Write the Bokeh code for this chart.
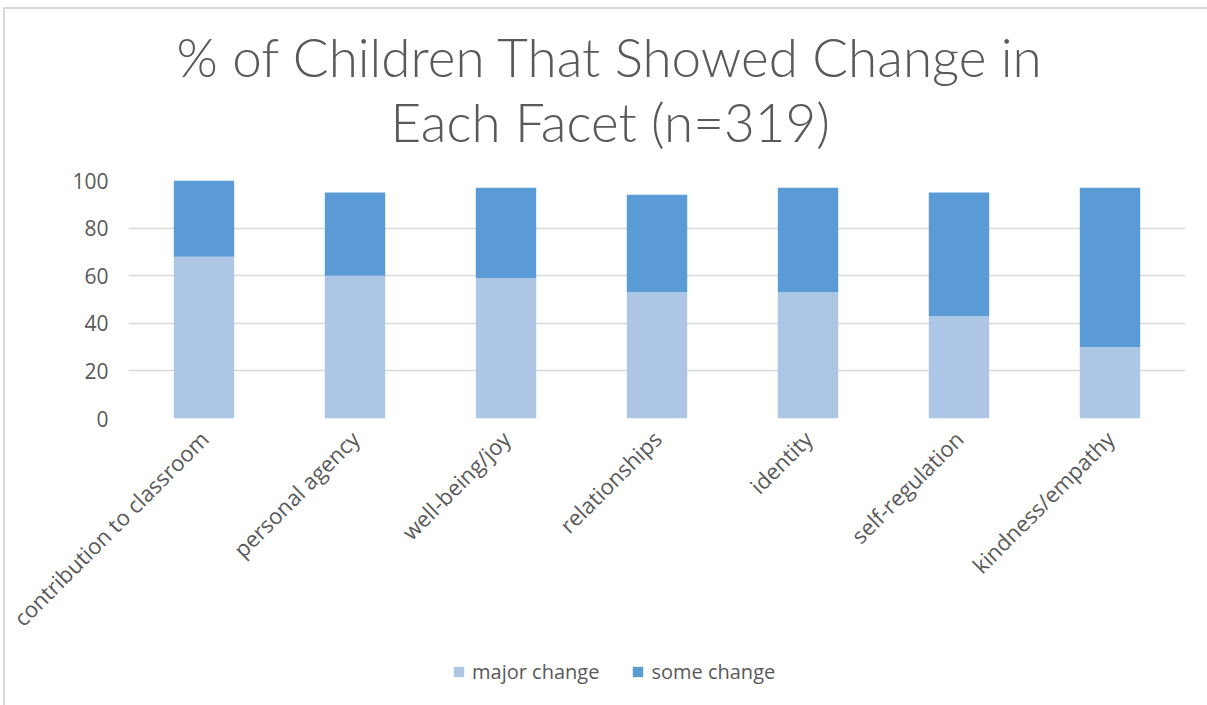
import math
from bokeh.plotting import figure
from bokeh.layouts import column
from bokeh.models import (FactorRange, Range1d, FixedTicker, Legend, LegendItem,
                          ColumnDataSource, Title)
from bokeh.embed import file_html
from bokeh.resources import INLINE

categories = ["contribution to classroom", "personal agency", "well-being/joy",
              "relationships", "identity", "self-regulation", "kindness/empathy"]
major_change = [68, 60, 59, 53, 53, 43, 30]
some_change = [32, 35, 38, 41, 44, 52, 67]
series = ["major change", "some change"]
colors = ["#ADC6E5", "#5B9BD5"]
y_ticks = [0, 20, 40, 60, 80, 100]
title_lines = ["% of Children That Showed Change in", "Each Facet (n=319)"]

TXT = "#595959"
OX, OY = 5, 9                 # content origin inside the bordered page
W = 1207 - OX
SPLIT = 652                   # page y where the legend strip starts
H1 = SPLIT - OY
H2 = 705 - SPLIT
FL, FR = 128 - OX, 1185 - OX
FT, FB = 180 - OY, 418 - OY

source = ColumnDataSource(dict(cat=categories, **{series[0]: major_change, series[1]: some_change}))

p = figure(width=W, height=H1, output_backend="svg", toolbar_location=None,
           x_range=FactorRange(*categories, range_padding=0, factor_padding=0),
           y_range=Range1d(0, 100),
           min_border_left=FL, min_border_right=W - FR,
           min_border_top=FT, min_border_bottom=H1 - FB,
           outline_line_color=None, background_fill_color="white",
           border_fill_color="white", margin=0)

renderers = p.vbar_stack(series, x="cat", width=0.4, color=colors, source=source,
                         line_color=None)

p.xgrid.grid_line_color = None
p.ygrid.grid_line_color = "#D9D9D9"
p.ygrid.grid_line_width = 1.5
p.yaxis.ticker = FixedTicker(ticks=y_ticks)

for ax in (p.xaxis[0], p.yaxis[0]):
    ax.axis_line_color = None
    ax.major_tick_line_color = None
    ax.minor_tick_line_color = None
    ax.major_tick_out = 0
    ax.major_tick_in = 0
    ax.major_label_text_color = TXT
    ax.major_label_text_font = "Open Sans"

p.yaxis.major_label_text_font_size = "21px"
p.xaxis.major_label_text_font_size = "22px"
p.yaxis.major_label_standoff = 20
p.xaxis.major_label_orientation = math.pi / 4
p.xaxis.major_label_standoff = 16

# spacer nearest to plot, then title line 2, then line 1 (farther from plot)
p.add_layout(Title(text=" ", text_font_size="10px", standoff=15), "above")
offsets = [48, 262]
for line, off in reversed(list(zip(title_lines, offsets))):
    p.add_layout(Title(text=line, align="left", offset=off, standoff=0,
                       text_font="Lato Light", text_font_size="53px",
                       text_font_style="normal", text_color=TXT), "above")

# legend strip: same data, drawn far outside its visible y range so only the legend shows
pl = figure(width=W, height=H2, output_backend="svg", toolbar_location=None,
            x_range=p.x_range, y_range=Range1d(5000, 5010),
            min_border=0, outline_line_color=None, x_axis_location=None,
            y_axis_location=None, margin=0, border_fill_color="white",
            background_fill_color="white")
pl.xgrid.grid_line_color = None
pl.ygrid.grid_line_color = None
leg_renderers = pl.vbar_stack(series, x="cat", width=0.4, color=colors, source=source,
                              line_color=None)

legend = Legend(items=[LegendItem(label=s, renderers=[r]) for s, r in zip(series, leg_renderers)],
                orientation="horizontal", location=(452 - 128, 20),
                glyph_width=13, glyph_height=13, label_standoff=7, spacing=32,
                padding=0, margin=0, border_line_color=None, background_fill_alpha=0,
                label_text_font="Open Sans", label_text_font_size="20px", label_text_color=TXT)
pl.add_layout(legend, "center")

layout = column(p, pl, spacing=0, margin=0,
                styles={"border-left": "2px solid #D9D9D9", "border-top": "2px solid #D9D9D9",
                        "margin-left": "3px", "margin-top": "7px"})

open("out.html", "w").write(file_html(layout, INLINE))
